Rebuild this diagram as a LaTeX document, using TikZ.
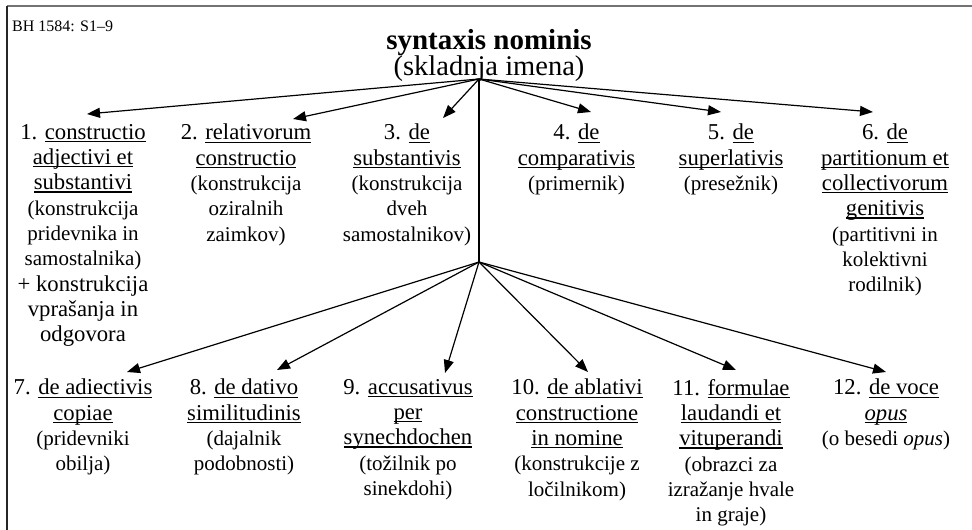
\documentclass[tikz,border=0pt]{standalone}
\usepackage{fontspec}
\setmainfont{Liberation Serif}
\usetikzlibrary{arrows.meta}
\newcommand\ul[1]{\setbox0\hbox{#1}\rlap{\rule[-2.8pt]{\wd0}{1.2pt}}\box0}
\newcommand\pp[1]{{\fontsize{21}{25.3}\selectfont #1}}
\tikzset{
  item/.style={anchor=north, inner sep=0pt, align=center, font=\fontsize{22.7}{25.3}\selectfont},
  arr/.style={line width=1.2pt, -{Triangle[length=13pt,width=10pt]}},
  trunk/.style={line width=1.2pt},
  frameline/.style={line width=1.5pt}
}
\begin{document}
\begin{tikzpicture}[x=1pt,y=-1pt]
\useasboundingbox (0,0) rectangle (972,530);
\fill[white] (0,0) rectangle (972,530);
% frame
\coordinate (fTL) at (7,6);
\coordinate (fTR) at (972,6);
\coordinate (fBL) at (7,530);
\draw[frameline, black!55] (fTL) -- (fTR);
\draw[frameline, black!85] (fTL) -- (fBL);
% header texts
\node[anchor=base west, inner sep=0pt, font=\fontsize{16}{18}\selectfont] (bh) at (12,31) {BH 1584: S1–9};
\node[anchor=base, inner sep=0pt, font=\fontsize{29}{32}\selectfont\bfseries] (title) at (489,49) {syntaxis nominis};
\node[anchor=base, inner sep=0pt, font=\fontsize{28.5}{32}\selectfont] (sub) at (489,75) {(skladnja imena)};
% top row
\node[item] (n1) at (83,124) {1. \ul{constructio}\\ \ul{adjectivi et}\\ \ul{substantivi}\\ \pp{(konstrukcija}\\ \pp{pridevnika in}\\ \pp{samostalnika)}\\ + konstrukcija\\ vprašanja in\\ odgovora};
\node[item] (n2) at (246,124) {2. \ul{relativorum}\\ \ul{constructio}\\ \pp{(konstrukcija}\\ \pp{oziralnih}\\ \pp{zaimkov)}};
\node[item] (n3) at (407,124) {3. \ul{de}\\ \ul{substantivis}\\ \pp{(konstrukcija}\\ \pp{dveh}\\ \pp{samostalnikov)}};
\node[item] (n4) at (576.5,124) {4. \ul{de}\\ \ul{comparativis}\\ \pp{(primernik)}};
\node[item] (n5) at (731,124) {5. \ul{de}\\ \ul{superlativis}\\ \pp{(presežnik)}};
\node[item] (n6) at (885,124) {6. \ul{de}\\ \ul{partitionum et}\\ \ul{collectivorum}\\ \ul{genitivis}\\ \pp{(partitivni in}\\ \pp{kolektivni}\\ \pp{rodilnik)}};
% bottom row
\node[item] (n7) at (83,379) {7. \ul{de adiectivis}\\ \ul{copiae}\\ \pp{(pridevniki}\\ \pp{obilja)}};
\node[item] (n8) at (244,379) {8. \ul{de dativo}\\ \ul{similitudinis}\\ \pp{(dajalnik}\\ \pp{podobnosti)}};
\node[item] (n9) at (408,379) {9. \ul{accusativus}\\ \ul{per}\\ \ul{synechdochen}\\ \pp{(tožilnik po}\\ \pp{sinekdohi)}};
\node[item] (n10) at (577,379) {10. \ul{de ablativi}\\ \ul{constructione}\\ \ul{in nomine}\\ \pp{(konstrukcije z}\\ \pp{ločilnikom)}};
\node[item] (n11) at (731,379) {11. \ul{formulae}\\ \ul{laudandi et}\\ \ul{vituperandi}\\ \pp{(obrazci za}\\ \pp{izražanje hvale}\\ \pp{in graje)}};
\node[item] (n12) at (886,379) {12. \ul{de voce}\\ \ul{\textit{opus}}\\ \pp{(o besedi \textit{opus})}};
% hubs and tips
\coordinate (hubA) at (479,79);
\coordinate (hubB) at (479,262);
\coordinate (t1) at (87,114);
\coordinate (t2) at (293,119);
\coordinate (t3) at (443,118);
\coordinate (t4) at (591,112);
\coordinate (t5) at (721,112);
\coordinate (t6) at (873,112);
\coordinate (t7) at (127,372);
\coordinate (t8) at (277,370);
\coordinate (t9) at (445,373);
\coordinate (t10) at (588,372);
\coordinate (t11) at (736,370);
\coordinate (t12) at (886,372);
\draw[trunk] (hubA) -- (hubB);
\foreach \k in {1,...,6} {\draw[arr] (hubA) -- (t\k);}
\foreach \k in {7,...,12} {\draw[arr] (hubB) -- (t\k);}
\end{tikzpicture}
\end{document}
